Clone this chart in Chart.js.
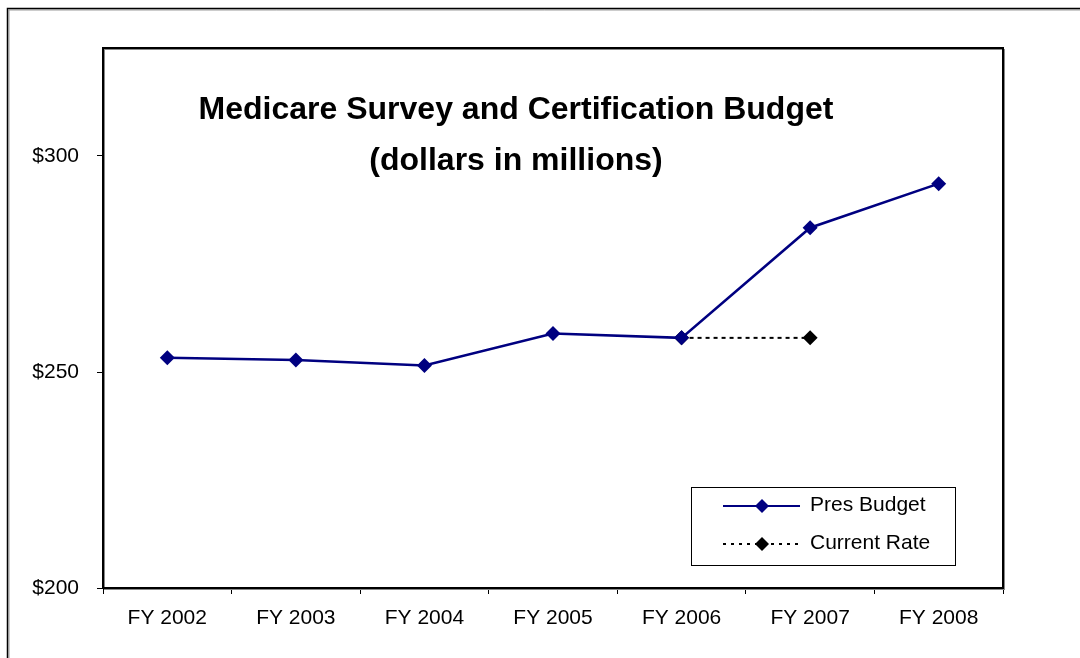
<!DOCTYPE html>
<html lang="en">
<head>
    <meta charset="UTF-8">
    <title>Medicare Survey and Certification Budget</title>
    <script src="https://cdn.jsdelivr.net/npm/chart.js"></script>
    <style>
        html, body { margin: 0; padding: 0; background: #fff; }
        #wrap { width: 1080px; height: 658px; }
    </style>
</head>
<body>
    <div id="wrap"><canvas id="budgetChart" width="1080" height="658"></canvas></div>

    <script>
        // chart values
        const years = ['FY 2002', 'FY 2003', 'FY 2004', 'FY 2005', 'FY 2006', 'FY 2007', 'FY 2008'];
        const presBudget = [253.3, 252.8, 251.5, 258.9, 257.9, 283.4, 293.6];
        const currentRate = [null, null, null, null, 257.9, 257.9, null];
        const yMin = 200, yMax = 325, yStep = 50;
        const titleLines = ['Medicare Survey and Certification Budget', '(dollars in millions)'];
        const seriesNames = ['Pres Budget', 'Current Rate'];

        const FONT = '"Liberation Sans", Arial, sans-serif';
        const NAVY = '#000080';

        function diamond(ctx, x, y, r, color) {
            ctx.beginPath();
            ctx.moveTo(x, y - r);
            ctx.lineTo(x + r, y);
            ctx.lineTo(x, y + r);
            ctx.lineTo(x - r, y);
            ctx.closePath();
            ctx.fillStyle = color;
            ctx.fill();
        }

        // frame, plot box, title and legend
        const decorations = {
            id: 'decorations',
            beforeDraw(chart) {
                const ctx = chart.ctx;
                ctx.save();
                ctx.fillStyle = '#fff';
                ctx.fillRect(0, 0, chart.width, chart.height);
                // outer frame
                ctx.strokeStyle = '#999';
                ctx.lineWidth = 1;
                ctx.beginPath();
                ctx.moveTo(9, 658); ctx.lineTo(9, 10); ctx.lineTo(1080, 10);
                ctx.stroke();
                ctx.strokeStyle = '#000';
                ctx.lineWidth = 1.5;
                ctx.beginPath();
                ctx.moveTo(7.5, 658); ctx.lineTo(7.5, 8.5); ctx.lineTo(1080, 8.5);
                ctx.stroke();
                ctx.restore();
            },
            afterDraw(chart) {
                const ctx = chart.ctx;
                const a = chart.chartArea;
                ctx.save();
                // plot area box
                ctx.strokeStyle = '#888';
                ctx.lineWidth = 1;
                ctx.strokeRect(a.left + 1.5, a.top + 1.5, a.right - a.left, a.bottom - a.top);
                ctx.strokeStyle = '#000';
                ctx.lineWidth = 2;
                ctx.strokeRect(a.left, a.top, a.right - a.left, a.bottom - a.top);

                // title
                ctx.fillStyle = '#000';
                ctx.font = 'bold 32px ' + FONT;
                ctx.textAlign = 'center';
                ctx.textBaseline = 'alphabetic';
                ctx.fillText(titleLines[0], 516, 119);
                ctx.fillText(titleLines[1], 516, 170);

                // legend
                ctx.lineWidth = 1;
                ctx.strokeStyle = '#000';
                ctx.fillStyle = '#fff';
                ctx.fillRect(691.5, 487.5, 264, 78);
                ctx.strokeRect(691.5, 487.5, 264, 78);

                ctx.strokeStyle = NAVY;
                ctx.lineWidth = 2;
                ctx.beginPath();
                ctx.moveTo(723, 506); ctx.lineTo(800, 506);
                ctx.stroke();
                diamond(ctx, 762, 506, 7, NAVY);

                ctx.strokeStyle = '#000';
                ctx.setLineDash([3, 5]);
                ctx.beginPath();
                ctx.moveTo(723, 544); ctx.lineTo(800, 544);
                ctx.stroke();
                ctx.setLineDash([]);
                diamond(ctx, 762, 544, 7, '#000');

                ctx.fillStyle = '#000';
                ctx.font = '21px ' + FONT;
                ctx.textAlign = 'left';
                ctx.textBaseline = 'middle';
                ctx.fillText(seriesNames[0], 810, 505);
                ctx.fillText(seriesNames[1], 810, 543);
                ctx.restore();
            }
        };

        const ctx = document.getElementById('budgetChart').getContext('2d');
        const budgetChart = new Chart(ctx, {
            type: 'line',
            data: {
                labels: years,
                datasets: [{
                    label: seriesNames[0],
                    data: presBudget,
                    borderColor: NAVY,
                    backgroundColor: NAVY,
                    borderWidth: 2.5,
                    pointStyle: 'rectRot',
                    pointRadius: 7.5,
                    pointBorderWidth: 0,
                    tension: 0
                }, {
                    label: seriesNames[1],
                    data: currentRate,
                    borderColor: '#000',
                    backgroundColor: '#000',
                    borderWidth: 2,
                    borderDash: [4, 4],
                    pointStyle: 'rectRot',
                    pointRadius: 7.5,
                    pointBorderWidth: 0,
                    spanGaps: false,
                    tension: 0
                }]
            },
            options: {
                responsive: false,
                animation: false,
                devicePixelRatio: 1,
                layout: { padding: { top: 48, right: 77, left: 0, bottom: 0 } },
                plugins: {
                    legend: { display: false },
                    tooltip: { enabled: false }
                },
                scales: {
                    x: {
                        offset: true,
                        grid: {
                            offset: true,
                            drawOnChartArea: false,
                            drawTicks: true,
                            tickLength: 6,
                            color: '#000',
                            lineWidth: 1
                        },
                        border: { display: false },
                        ticks: {
                            color: '#000',
                            font: { family: FONT, size: 21 },
                            padding: 12,
                            maxRotation: 0
                        },
                        afterFit(scale) { scale.height = 70; }
                    },
                    y: {
                        min: yMin,
                        max: yMax,
                        grid: {
                            drawOnChartArea: false,
                            drawTicks: true,
                            tickLength: 6,
                            color: '#000',
                            lineWidth: 1
                        },
                        border: { display: false },
                        ticks: {
                            stepSize: yStep,
                            includeBounds: false,
                            color: '#000',
                            font: { family: FONT, size: 21 },
                            padding: 18,
                            callback: (v) => '$' + v
                        },
                        afterFit(scale) { scale.width = 103; }
                    }
                }
            },
            plugins: [decorations]
        });
    </script>
</body>
</html>
